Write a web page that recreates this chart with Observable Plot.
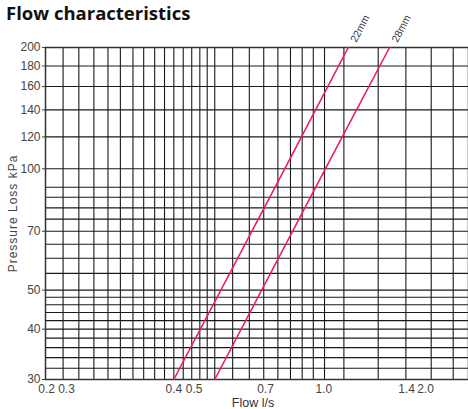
<!DOCTYPE html>
<html>
<head>
<meta charset="utf-8">
<script src="https://cdn.jsdelivr.net/npm/d3@7"></script>
<script src="https://cdn.jsdelivr.net/npm/@observablehq/plot@0.6"></script>
<style>
  html, body { margin: 0; padding: 0; background: #fff; }
  #wrap { position: relative; width: 468px; height: 409px; overflow: hidden; }
  #title { position: absolute; left: 6px; top: 0px; font-family: "Open Sans", Lato, sans-serif; font-weight: 700; font-size: 18.5px; color: #111; z-index: 2; line-height: normal; }
  #chart svg text { font-family: "Liberation Sans", sans-serif; }
</style>
</head>
<body>
<div id="wrap"><div id="title">Flow characteristics</div><div id="chart"></div></div>
<script>
// Grid line positions (flow, l/s) and (pressure, kPa)
const xGrid = [0.204, 0.2245, 0.246, 0.268, 0.289, 0.312, 0.333, 0.356, 0.378, 0.4, 0.4235, 0.446, 0.4685, 0.490, 0.513, 0.572, 0.633, 0.691, 0.753, 0.813, 0.873, 0.934, 1.0, 1.125, 1.386, 1.64, 1.913, 2.187];
const yGrid = [30, 32, 34, 36, 38, 40, 42, 44, 46, 48, 50, 55, 60, 65, 70, 75, 80, 85, 90, 100, 120, 140, 160, 180, 200];
const yTicks = [30, 40, 50, 70, 100, 120, 140, 160, 180, 200];
// x tick labels and where they sit along the flow axis in the picture
const xTickLabels = ["0.2", "0.3", "0.4", "0.5", "0.7", "1.0", "1.4", "2.0"];
const xTickSpots = [0.1845, 0.2083, 0.4, 0.4525, 0.6986, 0.9956, 1.647, 1.848];
// series
const pressure = [30, 100, 200];
const flow22 = [0.40, 0.785, 1.155];
const flow28 = [0.513, 1.005, 1.485];
const seriesNames = ["22mm", "28mm"];

const rows = [];
pressure.forEach((p, i) => rows.push({series: seriesNames[0], q: flow22[i], p}));
pressure.forEach((p, i) => rows.push({series: seriesNames[1], q: flow28[i], p}));
const tops = [
  {series: seriesNames[0], q: flow22[flow22.length - 1], p: pressure[pressure.length - 1]},
  {series: seriesNames[1], q: flow28[flow28.length - 1], p: pressure[pressure.length - 1]}
];
const labelMap = new Map(xTickSpots.map((v, i) => [v, xTickLabels[i]]));

const chart = Plot.plot({
  width: 468,
  height: 409,
  marginTop: 47,
  marginBottom: 30,
  marginLeft: 45,
  marginRight: 0,
  style: {fontFamily: "'Liberation Sans', sans-serif", fontSize: "12px", color: "#444", background: "transparent"},
  x: {type: "log", domain: [0.1833, 2.40], ticks: xTickSpots, tickFormat: d => labelMap.get(d), tickSize: 0, tickPadding: 5, label: null},
  y: {type: "log", domain: [30, 200], ticks: yTicks, tickFormat: d => String(d), tickSize: 3, tickPadding: 2, label: null},
  marks: [
    Plot.ruleX(xGrid, {stroke: "#1a1a1a", strokeWidth: 1.1}),
    Plot.ruleY(yGrid, {stroke: "#1a1a1a", strokeWidth: 1.1}),
    Plot.frame({stroke: "#333", strokeWidth: 1.5}),
    Plot.line(rows, {x: "q", y: "p", z: "series", stroke: "#ee1d5a", strokeWidth: 1.6}),
    Plot.text(tops, {x: "q", y: "p", text: "series", rotate: -62, textAnchor: "start", dx: 5, dy: -6, fill: "#333", fontSize: 10.5}),
    Plot.text(["Pressure Loss kPa"], {frameAnchor: "left", textAnchor: "middle", dx: -32, rotate: -90, fill: "#444", fontSize: 12}),
    Plot.text(["Flow l/s"], {frameAnchor: "bottom", textAnchor: "middle", dx: -4, dy: 23, fill: "#333", fontSize: 12.5, lineAnchor: "middle"})
  ]
});
d3.select(chart).selectAll("text").filter(function() { return this.textContent === "Pressure Loss kPa"; }).attr("letter-spacing", "1px");
document.getElementById("chart").appendChild(chart);
</script>
</body>
</html>
